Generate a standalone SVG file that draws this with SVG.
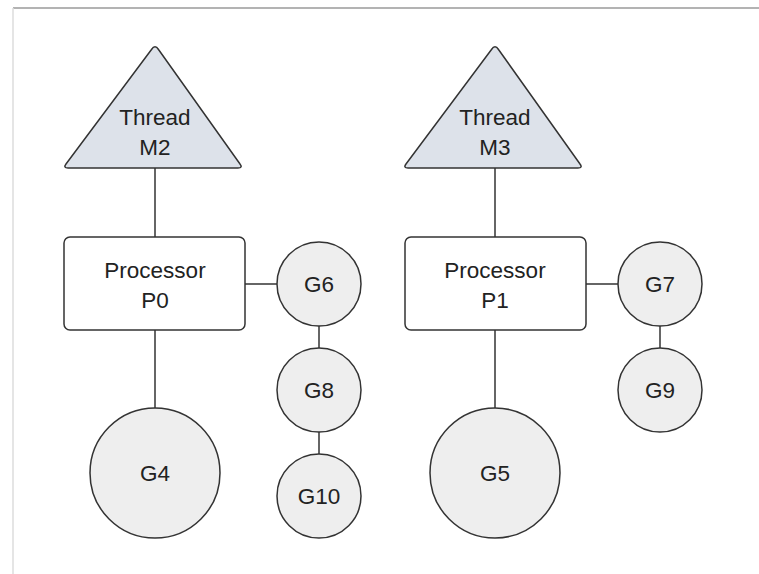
<svg xmlns="http://www.w3.org/2000/svg" width="759" height="574" viewBox="0 0 759 574">
  <style>
    .frame-top { stroke: #9a9a9a; stroke-width: 1.5; }
    .frame-left { stroke: #dddddd; stroke-width: 1.5; }
    .thread { fill: #dde2ea; stroke: #333333; stroke-width: 1.5; stroke-linejoin: round; }
    .proc { fill: #ffffff; stroke: #333333; stroke-width: 1.5; }
    .gor { fill: #eeeeee; stroke: #333333; stroke-width: 1.5; }
    .link { stroke: #333333; stroke-width: 1.5; fill: none; }
    text { font-family: "Liberation Sans", Arial, sans-serif; font-size: 22.5px; fill: #222222; text-anchor: middle; }
  </style>
  <rect width="759" height="574" fill="#ffffff"/>
  <line class="frame-top" x1="13" y1="8" x2="759" y2="8"/>
  <line class="frame-left" x1="13" y1="8" x2="13" y2="574"/>

  <g id="connectors">
    <line class="link" x1="155" y1="168" x2="155" y2="237"/>
    <line class="link" x1="155" y1="330" x2="155" y2="408"/>
    <line class="link" x1="245" y1="284" x2="277" y2="284"/>
    <line class="link" x1="319" y1="326" x2="319" y2="348"/>
    <line class="link" x1="319" y1="432" x2="319" y2="454"/>
    <line class="link" x1="495" y1="168" x2="495" y2="237"/>
    <line class="link" x1="495" y1="330" x2="495" y2="408"/>
    <line class="link" x1="586" y1="284" x2="618" y2="284"/>
    <line class="link" x1="660" y1="326" x2="660" y2="348"/>
  </g>

  <g id="thread-m2">
    <path class="thread" d="M151.5 49.5 Q155 44 158.5 49.5 L240 164 Q243 168 238 168 L68 168 Q63 168 66 164 Z"/>
    <text x="155" y="125">Thread</text>
    <text x="155" y="155">M2</text>
  </g>
  <g id="thread-m3">
    <path class="thread" d="M491.5 49.5 Q495 44 498.5 49.5 L580 164 Q583 168 578 168 L408 168 Q403 168 406 164 Z"/>
    <text x="495" y="125">Thread</text>
    <text x="495" y="155">M3</text>
  </g>

  <g id="processor-p0">
    <rect class="proc" x="64" y="237" width="181" height="93" rx="6"/>
    <text x="155" y="278">Processor</text>
    <text x="155" y="308">P0</text>
  </g>
  <g id="processor-p1">
    <rect class="proc" x="405" y="237" width="181" height="93" rx="6"/>
    <text x="495" y="278">Processor</text>
    <text x="495" y="308">P1</text>
  </g>

  <g id="g4">
    <circle class="gor" cx="155" cy="473" r="65"/>
    <text x="155" y="481">G4</text>
  </g>
  <g id="g5">
    <circle class="gor" cx="495" cy="473" r="65"/>
    <text x="495" y="481">G5</text>
  </g>
  <g id="g6">
    <circle class="gor" cx="319" cy="284" r="42"/>
    <text x="319" y="292">G6</text>
  </g>
  <g id="g8">
    <circle class="gor" cx="319" cy="390" r="42"/>
    <text x="319" y="398">G8</text>
  </g>
  <g id="g10">
    <circle class="gor" cx="319" cy="496" r="42"/>
    <text x="319" y="504">G10</text>
  </g>
  <g id="g7">
    <circle class="gor" cx="660" cy="284" r="42"/>
    <text x="660" y="292">G7</text>
  </g>
  <g id="g9">
    <circle class="gor" cx="660" cy="390" r="42"/>
    <text x="660" y="398">G9</text>
  </g>
</svg>
